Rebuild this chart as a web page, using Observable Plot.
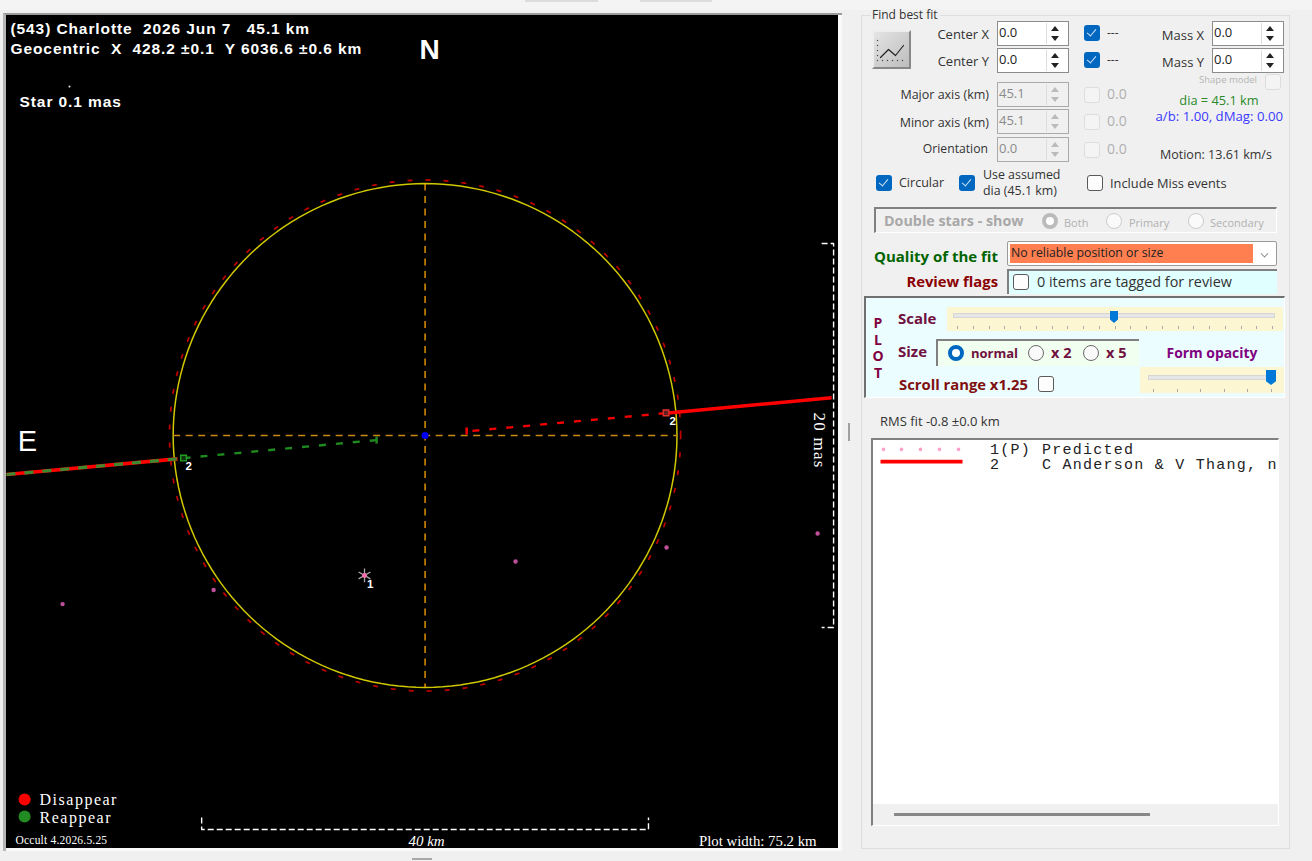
<!DOCTYPE html>
<html><head><meta charset="utf-8">
<script src="https://cdn.jsdelivr.net/npm/d3@7"></script>
<script src="https://cdn.jsdelivr.net/npm/@observablehq/plot@0.6"></script>
<style>
html,body{margin:0;padding:0;width:1312px;height:861px;overflow:hidden;background:#f0f0f0;font-family:"Open Sans","Noto Sans",sans-serif;}
#root{position:relative;width:1312px;height:861px;}
.a{position:absolute;box-sizing:border-box;}
.t{position:absolute;white-space:pre;transform:translateY(-50%);font-size:12px;color:#333;line-height:1;}
.cb{position:absolute;width:16px;height:16px;border-radius:3px;box-sizing:border-box;}
.cb.on{background:#0067c0;}
.cb.on:after{content:"";position:absolute;left:5px;top:2px;width:4px;height:8px;border:solid #cfe3f5;border-width:0 1.5px 1.5px 0;transform:rotate(40deg);}
.cb.off{border:1.5px solid #5a5a5a;background:#fdfdfd;}
.cb.dis{border:1.5px solid #ddd;background:#f4f4f4;}
.rd{position:absolute;width:16px;height:16px;border-radius:50%;box-sizing:border-box;border:1.5px solid #6a6a6a;background:#fafafa;}
.rd.dis{border-color:#ccc;}
.rd.sel{border:4.5px solid #0067c0;background:#fff;}
.rd.dissel{border:4.5px solid #bbb;background:#fff;}
.ls-title text{letter-spacing:.9px;}
.ls-legend text{letter-spacing:1.5px;}
.ls-mas text{letter-spacing:1.2px;}
.ls-small text{letter-spacing:.2px;}
</style></head>
<body><div id="root"></div>
<script>
// ---- Chart data, in km on the sky plane (x positive west, y positive north) ----
const xDomain = [-37.47, 37.01];
const yDomain = [-36.97, 37.60];
const assumedDiameter = 45.1;
const predictedRadius = 22.88;
const crossH = [{x:-22.55,y:0},{x:22.55,y:0}];
const crossV = [{x:0,y:22.55},{x:0,y:-22.55}];
const chordWest = [{x:36.39,y:3.38},{x:21.53,y:2.00}];
const chordWestDash = [{x:21.53,y:2.00},{x:3.72,y:0.37}];
const chordWestTick = [{x:3.72,y:0.72},{x:3.72,y:0.09}];
const chordEast = [{x:-37.47,y:-3.49},{x:-22.16,y:-2.09}];
const chordEastDash = [{x:-21.62,y:-2.02},{x:-4.34,y:-0.41}];
const chordEastTick = [{x:-4.34,y:-0.09},{x:-4.34,y:-0.72}];
const disappearEdge = [{x:21.57,y:2.03}];
const reappearEdge = [{x:-21.62,y:-2.02}];
const pathPoints = [{x:-32.45,y:-15.09},{x:-18.93,y:-13.83},{x:8.10,y:-11.28},{x:21.62,y:-10.03},{x:35.14,y:-8.77}];
const predictedStar = [{x:-5.42,y:-12.53}];
const starDisc = [{x:-31.83,y:31.24}];
const centre = [{x:0,y:0}];
const scaleMas = [{x:35.50,y:17.19},{x:36.57,y:17.19},{x:36.57,y:-17.19},{x:35.50,y:-17.19}];
const scaleKm = [{x:-20,y:-34.2},{x:-20,y:-35.27},{x:20,y:-35.27},{x:20,y:-34.2}];
const legendKeys = [{x:-35.85,y:-32.59,c:"#ff0000"},{x:-35.85,y:-34.11,c:"#228b22"}];
const chordLabels = [{x:-4.92,y:-13.34,t:"1"},{x:-21.17,y:-2.78,t:"2"},{x:22.16,y:1.25,t:"2"}];
const titleLines = [
  {x:-37.11,y:35.90,t:"(543) Charlotte  2026 Jun 7   45.1 km"},
  {x:-37.11,y:34.11,t:"Geocentric  X  428.2 ±0.1  Y 6036.6 ±0.6 km"},
  {x:-36.30,y:29.41,t:"Star 0.1 mas"}];
const compassN = [{x:0.40,y:33.75,t:"N"}];
const compassE = [{x:-35.59,y:-1.43,t:"E"}];
const legendText = [{x:-34.51,y:-33.12,t:"Disappear"},{x:-34.51,y:-34.65,t:"Reappear"}];
const masLabel = [{x:35.32,y:-0.45,t:"20 mas"}];
const versionLabel = [{x:-36.66,y:-36.53,t:"Occult 4.2026.5.25"}];
const kmLabel = [{x:0.13,y:-36.71,t:"40 km"}];
const widthLabel = [{x:35.05,y:-36.71,t:"Plot width: 75.2 km"}];
// the two limb outlines follow directly from their radii
const ring = r => d3.range(0, 361, 2).map(a => ({x:r*Math.cos(a*Math.PI/180), y:r*Math.sin(a*Math.PI/180)}));
const xy = {x:"x", y:"y"};
const txt = {x:"x", y:"y", text:"t", lineAnchor:"bottom"};
const butt = {strokeLinecap:"butt"};
const sans = '"Liberation Sans",Arial,sans-serif', serif = '"Liberation Serif","Times New Roman",serif';

const chart = Plot.plot({
  width:832, height:833, margin:0,
  x:{domain:xDomain, axis:null}, y:{domain:yDomain, axis:null},
  style:{background:"#000", display:"block"},
  marks:[
    Plot.line(ring(predictedRadius), {...xy, ...butt, stroke:"#c00000", strokeWidth:1.7, strokeDasharray:"5 13"}),
    Plot.line(ring(assumedDiameter/2), {...xy, stroke:"#d0c800", strokeWidth:1.5}),
    Plot.line(crossH, {...xy, ...butt, stroke:"#c98a10", strokeWidth:1.4, strokeDasharray:"7 5.5"}),
    Plot.line(crossV, {...xy, ...butt, stroke:"#ffa500", strokeWidth:1.3, strokeDasharray:"7 5.5"}),
    Plot.line(chordWest, {...xy, ...butt, stroke:"#ff0000", strokeWidth:3.6}),
    Plot.line(chordWestDash, {...xy, ...butt, stroke:"#f00000", strokeWidth:2.4, strokeDasharray:"7 10"}),
    Plot.line(chordWestTick, {...xy, ...butt, stroke:"#ff0000", strokeWidth:2.4}),
    Plot.line(chordEast, {...xy, ...butt, stroke:"#ff0000", strokeWidth:3.6}),
    Plot.line(chordEast, {...xy, ...butt, stroke:"#3f8a30", strokeWidth:3.2, strokeDasharray:"9 9"}),
    Plot.line(chordEastDash, {...xy, ...butt, stroke:"#1f8a1f", strokeWidth:2.4, strokeDasharray:"7 10"}),
    Plot.line(chordEastTick, {...xy, ...butt, stroke:"#1f8a1f", strokeWidth:2.4}),
    Plot.dot(disappearEdge, {...xy, symbol:"square", r:3.2, stroke:"#e03030", strokeWidth:1.4, fill:"#602020"}),
    Plot.dot(reappearEdge, {...xy, symbol:"square", r:3.2, stroke:"#20a020", strokeWidth:1.4, fill:"#103010"}),
    Plot.dot(pathPoints, {...xy, r:2.2, fill:"#c0509c"}),
    Plot.dot(predictedStar, {...xy, symbol:"asterisk", r:6.5, stroke:"#a8a8a8", strokeWidth:1.3}),
    Plot.dot(predictedStar, {...xy, r:2.4, fill:"#ff70b0"}),
    Plot.dot(centre, {...xy, r:3.5, fill:"#0000f0"}),
    Plot.dot(starDisc, {...xy, r:1.1, fill:"#cccccc"}),
    Plot.line(scaleMas, {...xy, ...butt, stroke:"#fff", strokeWidth:1.4, strokeDasharray:"6 3"}),
    Plot.line(scaleKm, {...xy, ...butt, stroke:"#fff", strokeWidth:1.4, strokeDasharray:"6 3"}),
    Plot.dot(legendKeys, {...xy, r:6, fill:"c"}),
    Plot.text(chordLabels, {...txt, lineAnchor:"middle", fill:"#fff", fontFamily:sans, fontWeight:"bold", fontSize:11.5}),
    Plot.text(titleLines, {...txt, className:"ls-title", textAnchor:"start", fill:"#fff", fontFamily:sans, fontWeight:"bold", fontSize:15.5}),
    Plot.text(compassN, {...txt, fill:"#fff", fontFamily:sans, fontWeight:"bold", fontSize:28}),
    Plot.text(compassE, {...txt, fill:"#fff", fontFamily:sans, fontSize:29}),
    Plot.text(legendText, {...txt, className:"ls-legend", textAnchor:"start", fill:"#fff", fontFamily:serif, fontSize:16}),
    Plot.text(masLabel, {...txt, className:"ls-mas", lineAnchor:"middle", rotate:90, fill:"#fff", fontFamily:serif, fontSize:17}),
    Plot.text(versionLabel, {...txt, className:"ls-small", textAnchor:"start", fill:"#fff", fontFamily:serif, fontSize:11.5}),
    Plot.text(kmLabel, {...txt, fill:"#fff", fontFamily:serif, fontStyle:"italic", fontSize:15}),
    Plot.text(widthLabel, {...txt, textAnchor:"end", fill:"#fff", fontFamily:serif, fontSize:14.8})
  ]
});

// ---- small key inside the observer list ----
const predictedKey = [{x:3,y:0},{x:21,y:0},{x:40,y:0},{x:59,y:0},{x:78,y:0}];
const observedKey = [{x:0,y:1},{x:82,y:1}];
const key = Plot.plot({
  width:84, height:22, margin:0,
  x:{domain:[-1,83], axis:null}, y:{domain:[1.4,-0.4], axis:null},
  style:{background:"transparent", display:"block"},
  marks:[
    Plot.dot(predictedKey, {...xy, r:1.8, fill:"#ffa0c8"}),
    Plot.line(observedKey, {...xy, ...butt, stroke:"#ff0000", strokeWidth:3.8})
  ]
});

// ---- glyph on the fit button ----
const iconLine = [{x:3,y:3},{x:11,y:11},{x:18,y:5},{x:26,y:15}];
const iconDotsLeft = [{x:0,y:0},{x:0,y:5},{x:0,y:10},{x:0,y:15},{x:0,y:20}];
const iconDotsBase = [{x:5,y:0},{x:10,y:0},{x:15,y:0},{x:20,y:0},{x:25,y:0}];
const icon = Plot.plot({
  width:32, height:26, margin:2,
  x:{domain:[0,28], axis:null}, y:{domain:[0,22], axis:null},
  style:{background:"transparent", display:"block"},
  marks:[
    Plot.dot(iconDotsLeft, {...xy, r:0.7, fill:"#444"}),
    Plot.dot(iconDotsBase, {...xy, r:0.7, fill:"#444"}),
    Plot.line(iconLine, {...xy, stroke:"#222", strokeWidth:1.2})
  ]
});

// ---- page furniture ----
const root = document.getElementById("root");
function box(x,y,w,h,style,cls){const d=document.createElement("div");d.className="a "+(cls||"");d.style.cssText+=`left:${x}px;top:${y}px;width:${w}px;height:${h}px;`+(style||"");root.appendChild(d);return d;}
function t(s,x,y,style,right){const d=document.createElement("div");d.className="t";d.textContent=s;
  d.style.cssText+=`${right?`right:${1312-x}px`:`left:${x}px`};top:${y}px;`+(style||"");root.appendChild(d);return d;}
function cb(x,y,k){const d=document.createElement("div");d.className="cb "+k;d.style.left=x+"px";d.style.top=y+"px";root.appendChild(d);}
function rd(x,y,k){const d=document.createElement("div");d.className="rd "+(k||"");d.style.left=(x-8)+"px";d.style.top=(y-8)+"px";root.appendChild(d);}
function spin(x,y,v,dis){
  box(x,y,72,25,dis?"background:#f0f0f0;border:1.5px solid #aaa;":"background:#fff;border:1.5px solid #8c8c8c;");
  t(v,x+2,y+11,`font-size:13px;color:${dis?"#8a8a8a":"#222"};`);
  const c=dis?"#bbb":"#222";
  box(x+49,y+2,1,21,"background:#ddd;");
  box(x+54,y+5,0,0,`border-left:4px solid transparent;border-right:4px solid transparent;border-bottom:5px solid ${c};`);
  box(x+54,y+15,0,0,`border-left:4px solid transparent;border-right:4px solid transparent;border-top:5px solid ${c};`);
}
// outer frame
box(3,13,839,838,"background:#fafafa;border-left:3px solid #b5b5b5;border-top:2px solid #9a9a9a;");
const holder = box(6,15,832,833,""); holder.appendChild(chart);
box(0,0,1312,10,"background:#f4f4f4;");
box(525,0,73,2,"background:#dcdcdc;"); box(640,0,72,2,"background:#dcdcdc;");
box(848,423,2,18,"background:#a0a0a0;"); box(412,858,20,1.5,"background:#a8a8a8;");
// group box
box(861,15,429,834,"border:1px solid #dedede;");
t("Find best fit",871,15,"background:#f0f0f0;padding:0 2px 0 1px;font-size:12px;");
box(872,30,39,39,"background:linear-gradient(135deg,#e4e4e4,#bdbdbd);border:2px solid;border-color:#eee #888 #888 #eee;");
box(875,36,32,26,"").appendChild(icon);
t("Center X",989,34,"font-size:13px;",1); t("Center Y",989,61,"font-size:13px;",1);
t("Mass X",1204,35,"font-size:13px;",1); t("Mass Y",1204,62,"font-size:13px;",1);
spin(997,21,"0.0"); spin(997,48,"0.0"); spin(1212,21,"0.0"); spin(1212,48,"0.0");
cb(1084,25,"on"); cb(1084,52,"on"); t("---",1107,33); t("---",1107,60);
t("Shape model",1257,80,"font-size:9.5px;color:#b5b5b5;",1); cb(1265,74,"dis");
t("Major axis (km)",989,95,"font-size:12.5px;",1); t("Minor axis (km)",989,123,"font-size:12.5px;",1); t("Orientation",988,149,"font-size:12.2px;",1);
spin(997,82,"45.1",1); spin(997,109,"45.1",1); spin(997,137,"0.0",1);
[[87,94],[114,121],[142,149]].forEach(([a,b])=>{cb(1084,a,"dis");t("0.0",1107,b,"font-size:14px;color:#b0b0b0;");});
t("dia = 45.1 km",1219,100,"font-size:12.8px;color:#2a8a2a;transform:translate(-50%,-50%);");
t("a/b: 1.00, dMag: 0.00",1283,117,"font-size:13.2px;color:#3a3aff;",1);
t("Motion: 13.61 km/s",1160,155,"font-size:12.5px;");
cb(876,175,"on"); t("Circular",899,183,"font-size:12.5px;");
cb(959,175,"on"); t("Use assumed",983,175,"font-size:12.4px;"); t("dia (45.1 km)",983,191,"font-size:12.4px;");
cb(1087,175,"off"); t("Include Miss events",1110,183,"font-size:12.8px;");
// double stars
box(874,207,403,26,"border-top:2px solid #808080;border-left:2px solid #808080;border-right:1px solid #fff;border-bottom:1px solid #fff;");
t("Double stars - show",884,221,"font-weight:700;font-size:14.3px;color:#a8a8a8;");
rd(1050,221,"dissel"); t("Both",1064,222,"font-size:11px;color:#b0b0b0;");
rd(1114,221,"dis"); t("Primary",1129,222,"font-size:11px;color:#b0b0b0;");
rd(1196,221,"dis"); t("Secondary",1210,222,"font-size:11px;color:#b0b0b0;");
// quality
t("Quality of the fit",874,256,"font-weight:700;font-size:15px;color:#006400;");
box(1007,241,270,25,"background:#fff;border:1px solid #9a9a9a;border-radius:2px;");
box(1010,244,243,19,"background:#ff7f50;");
t("No reliable position or size",1011,253,"font-size:12.3px;color:#222;");
box(1261,250,7,7,"border-right:1.3px solid #777;border-bottom:1.3px solid #777;transform:rotate(45deg) scale(.8);");
t("Review flags",998,281,"font-weight:700;font-size:14.8px;color:#8b0000;",1);
box(1007,269,270,25,"background:#e0ffff;border-top:2px solid #808080;border-left:2px solid #808080;");
cb(1013,274,"off"); t("0 items are tagged for review",1037,282,"font-size:14.4px;");
// plot box
box(864,296,421,102,"background:#ebfdff;border-top:2px solid #707070;border-left:2px solid #707070;border-right:1px solid #fff;border-bottom:1px solid #fff;");
["P","L","O","T"].forEach((c,i)=>t(c,878,323+i*16.5,"font-weight:700;font-size:14px;color:#800040;transform:translate(-50%,-50%);"));
t("Scale",898,318,"font-weight:700;font-size:15px;color:#701040;");
box(947,307,336,24,"background:#fdf6d2;");
box(953,313,322,5,"background:#e6e6e6;border:1px solid #d6d6d6;");
box(1110,311,8,12,"background:#0078d7;clip-path:polygon(0 0,100% 0,100% 70%,50% 100%,0 70%);");
d3.range(21).forEach(i=>box(957+i*15.75,326,1,3,"background:#aaa;"));
t("Size",898,351,"font-weight:700;font-size:15px;color:#701040;");
box(936,339,203,27,"background:#f0fff0;border-top:2px solid #808080;border-left:2px solid #808080;");
rd(956,353,"sel"); t("normal",971,353,"font-weight:700;font-size:13px;color:#701040;");
rd(1036,353); t("x 2",1051,353,"font-weight:700;font-size:14.5px;color:#701040;");
rd(1091,353); t("x 5",1106,353,"font-weight:700;font-size:14.5px;color:#701040;");
t("Form opacity",1212,353,"font-weight:700;font-size:13.9px;color:#800080;transform:translate(-50%,-50%);");
t("Scroll range x1.25",899,384,"font-weight:700;font-size:14.8px;color:#801010;");
cb(1038,376,"off");
box(1140,367,144,26,"background:#fdf6d2;");
box(1148,375,127,5,"background:#e6e6e6;border:1px solid #d6d6d6;");
box(1266,370,10,15,"background:#0078d7;clip-path:polygon(0 0,100% 0,100% 75%,50% 100%,0 75%);");
d3.range(6).forEach(i=>box(1153+i*23.6,389,1,3,"background:#aaa;"));
t("RMS fit -0.8 ±0.0 km",880,421,"font-size:13px;");
// list
box(871,438,408,388,"background:#f0f0f0;border-top:2px solid #808080;border-left:2px solid #808080;border-right:1px solid #fff;border-bottom:1px solid #fff;");
box(873,440,405,364,"background:#fff;");
box(894,813,256,2.5,"background:#888;");
const mono='font-family:"Liberation Mono","Courier New",monospace;font-size:15px;letter-spacing:1.25px;color:#222;';
t("1(P)",990,450,mono); t("Predicted",1042,450,mono);
t("2",990,465,mono);
const clip=box(1042,457,236,16,"overflow:hidden;");
const cn=document.createElement("div");cn.className="t";cn.textContent="C Anderson & V Thang, n";cn.style.cssText=mono+"left:0;top:8px;";clip.appendChild(cn);
box(879,444,84,22,"").appendChild(key);
</script>
</body></html>
